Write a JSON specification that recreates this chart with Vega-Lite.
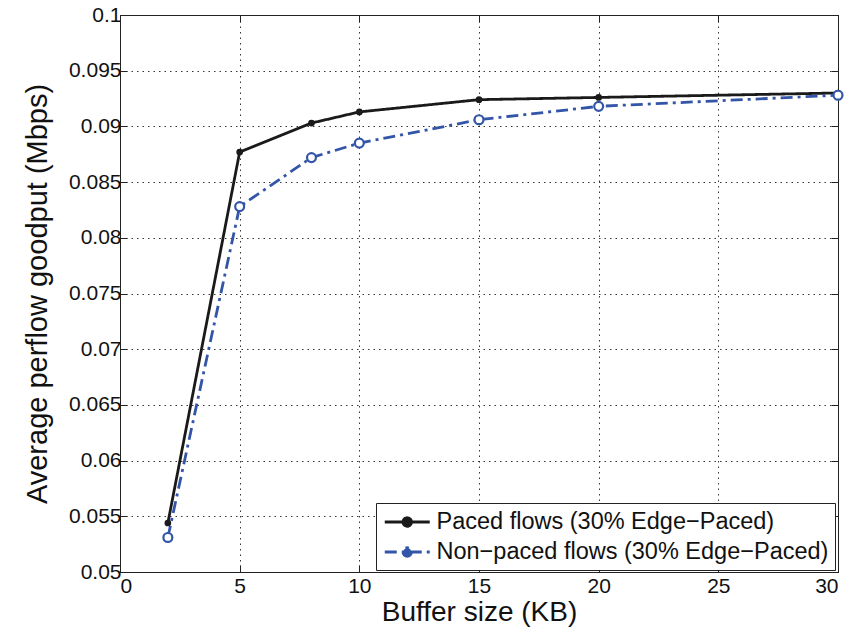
{
  "$schema": "https://vega.github.io/schema/vega-lite/v6.json",
  "width": 718,
  "height": 557,
  "autosize": {"type": "none"},
  "padding": {"left": 120, "top": 15, "right": 26, "bottom": 57},
  "background": "white",
  "config": {
    "font": "Liberation Sans",
    "view": {"stroke": "#222222", "strokeWidth": 1},
    "axis": {
      "labelFont": "Liberation Sans",
      "titleFont": "Liberation Sans",
      "labelFontSize": 21,
      "titleFontSize": 28,
      "labelColor": "#111111",
      "titleColor": "#111111",
      "titleFontWeight": "normal",
      "domainColor": "#222222",
      "tickColor": "#222222",
      "tickSize": -7,
      "gridColor": "#222222",
      "gridDash": [1.5, 4],
      "gridOpacity": 0.9,
      "gridWidth": 1
    }
  },
  "data": {
    "values": [
      {"buffer": 2, "goodput": 0.0544, "series": "Paced flows (30% Edge\u2212Paced)"},
      {"buffer": 5, "goodput": 0.0877, "series": "Paced flows (30% Edge\u2212Paced)"},
      {"buffer": 8, "goodput": 0.0903, "series": "Paced flows (30% Edge\u2212Paced)"},
      {"buffer": 10, "goodput": 0.0913, "series": "Paced flows (30% Edge\u2212Paced)"},
      {"buffer": 15, "goodput": 0.0924, "series": "Paced flows (30% Edge\u2212Paced)"},
      {"buffer": 20, "goodput": 0.0926, "series": "Paced flows (30% Edge\u2212Paced)"},
      {"buffer": 30, "goodput": 0.0930, "series": "Paced flows (30% Edge\u2212Paced)"},
      {"buffer": 2, "goodput": 0.0531, "series": "Non\u2212paced flows (30% Edge\u2212Paced)"},
      {"buffer": 5, "goodput": 0.0828, "series": "Non\u2212paced flows (30% Edge\u2212Paced)"},
      {"buffer": 8, "goodput": 0.0872, "series": "Non\u2212paced flows (30% Edge\u2212Paced)"},
      {"buffer": 10, "goodput": 0.0885, "series": "Non\u2212paced flows (30% Edge\u2212Paced)"},
      {"buffer": 15, "goodput": 0.0906, "series": "Non\u2212paced flows (30% Edge\u2212Paced)"},
      {"buffer": 20, "goodput": 0.0918, "series": "Non\u2212paced flows (30% Edge\u2212Paced)"},
      {"buffer": 30, "goodput": 0.0928, "series": "Non\u2212paced flows (30% Edge\u2212Paced)"}
    ]
  },
  "layer": [
    {
      "mark": {"type": "line", "strokeWidth": 2.8},
      "encoding": {
        "x": {
          "field": "buffer", "type": "quantitative",
          "scale": {"domain": [0, 30], "nice": false},
          "axis": {"title": "Buffer size (KB)", "values": [0, 5, 10, 15, 20, 25, 30], "labelPadding": 10, "titlePadding": 2, "grid": true}
        },
        "y": {
          "field": "goodput", "type": "quantitative",
          "scale": {"domain": [0.05, 0.1], "nice": false, "zero": false},
          "axis": {"title": "Average perflow goodput (Mbps)", "format": ".3~f", "values": [0.05, 0.055, 0.06, 0.065, 0.07, 0.075, 0.08, 0.085, 0.09, 0.095, 0.1], "labelPadding": 6, "titlePadding": 16, "grid": true, "titleFontSize": 29}
        },
        "color": {
          "field": "series", "type": "nominal",
          "sort": ["Paced flows (30% Edge\u2212Paced)", "Non\u2212paced flows (30% Edge\u2212Paced)"],
          "scale": {"domain": ["Paced flows (30% Edge\u2212Paced)", "Non\u2212paced flows (30% Edge\u2212Paced)"], "range": ["#1a1a1a", "#3355a8"]},
          "legend": {
            "title": null,
            "orient": "none",
            "legendX": 256,
            "legendY": 488,
            "direction": "vertical",
            "fillColor": "white",
            "strokeColor": "#222222",
            "padding": 6,
            "labelFontSize": 23.5,
            "labelColor": "#111111",
            "labelFont": "Liberation Sans",
            "labelLimit": 600,
            "symbolType": "M -2 0 L 2 0 M 0.36 0 A 0.36 0.36 0 1 1 -0.36 0 A 0.36 0.36 0 1 1 0.36 0",
            "symbolSize": 506,
            "symbolStrokeWidth": 3.2,
            "symbolOffset": 12.25,
            "labelOffset": 16.25,
            "rowPadding": 5,
            "encode": {"symbols": {"update": {"fill": {"signal": "scale('color', datum.value)"}}}}
          }
        },
        "strokeDash": {
          "field": "series", "type": "nominal",
          "scale": {"domain": ["Paced flows (30% Edge\u2212Paced)", "Non\u2212paced flows (30% Edge\u2212Paced)"], "range": [[1, 0], [12, 5, 3, 5]]},
          "legend": null
        }
      }
    },
    {
      "transform": [{"filter": "datum.series === 'Paced flows (30% Edge\u2212Paced)'"}],
      "mark": {"type": "point", "shape": "circle", "filled": true, "size": 45, "color": "#1a1a1a", "opacity": 1},
      "encoding": {
        "x": {"field": "buffer", "type": "quantitative", "axis": null},
        "y": {"field": "goodput", "type": "quantitative", "axis": null}
      }
    },
    {
      "transform": [{"filter": "datum.series !== 'Paced flows (30% Edge\u2212Paced)'"}],
      "mark": {"type": "point", "shape": "circle", "filled": false, "fill": "white", "size": 80, "stroke": "#3355a8", "strokeWidth": 2.2, "opacity": 1},
      "encoding": {
        "x": {"field": "buffer", "type": "quantitative", "axis": null},
        "y": {"field": "goodput", "type": "quantitative", "axis": null}
      }
    },
    {
      "mark": {"type": "point", "opacity": 0},
      "encoding": {
        "x": {"field": "buffer", "type": "quantitative", "axis": {"orient": "top", "labels": false, "title": null, "values": [0, 5, 10, 15, 20, 25, 30], "grid": false}},
        "y": {"field": "goodput", "type": "quantitative", "axis": {"orient": "right", "labels": false, "title": null, "values": [0.05, 0.055, 0.06, 0.065, 0.07, 0.075, 0.08, 0.085, 0.09, 0.095, 0.1], "grid": false}}
      }
    }
  ],
  "resolve": {"axis": {"x": "independent", "y": "independent"}}
}
